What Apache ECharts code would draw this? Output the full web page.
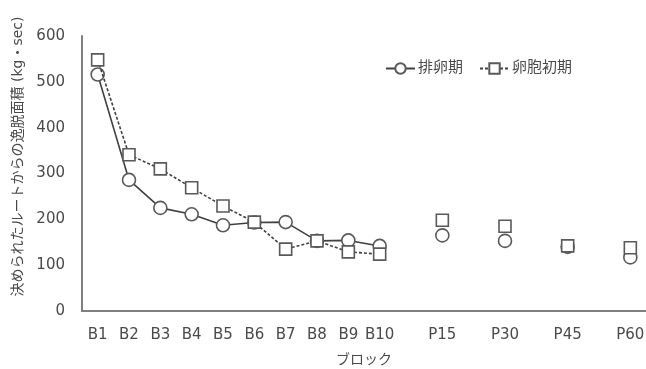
<!DOCTYPE html>
<html>
<head>
<meta charset="utf-8">
<script src="https://cdn.jsdelivr.net/npm/echarts@6/dist/echarts.min.js"></script>
<style>
html,body{margin:0;padding:0;background:#fff;}
#chart{width:646px;height:369px;}
</style>
</head>
<body>
<div id="chart"></div>
<script>
// Data
const blockLabels = ['B1','B2','B3','B4','B5','B6','B7','B8','B9','B10'];
const postLabels = ['P15','P30','P45','P60'];
const ovulationBlock = [516, 286, 225, 211, 187, 193, 194, 153, 154, 142];
const ovulationPost = [165, 153, 140, 117];
const follicularBlock = [548, 341, 310, 269, 229, 194, 135, 153, 129, 124];
const follicularPost = [198, 185, 142, 138];
const seriesNames = ['排卵期', '卵胞初期'];
const yTicks = { min: 0, max: 600, interval: 100 };

// Build category axis: blocks, then post values separated by blank slots
const categories = blockLabels.slice();
function buildValues(block, post) {
  const out = block.slice();
  post.forEach(v => { out.push(null); out.push(v); });
  return out;
}
postLabels.forEach(p => { categories.push(''); categories.push(p); });
const ovulation = buildValues(ovulationBlock, ovulationPost);
const follicular = buildValues(follicularBlock, follicularPost);

const font = '"DejaVu Sans", "Noto Sans CJK JP", sans-serif';
const textColor = '#4a4a4a';
const lineColor = '#404040';

const chart = echarts.init(document.getElementById('chart'), null, { renderer: 'canvas' });
chart.setOption({
  animation: false,
  backgroundColor: '#fff',
  textStyle: { fontFamily: font },
  grid: { left: 82, right: 0, top: 36, bottom: 58, containLabel: false, outerBoundsMode: 'none' },
  legend: {
    left: 380, top: 56,
    itemWidth: 29, itemHeight: 13, itemGap: 16,
    textStyle: { fontFamily: font, fontSize: 15, color: textColor, padding: [0,0,0,-2] },
    data: seriesNames
  },
  xAxis: {
    type: 'category',
    data: categories,
    boundaryGap: true,
    name: 'ブロック',
    nameLocation: 'middle',
    nameGap: 42,
    nameTextStyle: { fontFamily: font, fontSize: 14, color: textColor },
    axisLine: { show: true, lineStyle: { color: '#7f7f7f', width: 2 } },
    axisTick: { show: false },
    axisLabel: { interval: 0, margin: 17, fontSize: 15, color: textColor, fontFamily: font },
    splitLine: { show: false }
  },
  yAxis: {
    type: 'value',
    min: yTicks.min, max: yTicks.max, interval: yTicks.interval,
    name: '決められたルートからの逸脱面積 (kg・sec)',
    nameLocation: 'middle',
    nameGap: 57,
    nameTextStyle: { fontFamily: font, fontSize: 14, color: textColor, padding: [0,0,0,34] },
    axisLine: { show: true, lineStyle: { color: '#7f7f7f', width: 2 } },
    axisTick: { show: false },
    axisLabel: { margin: 17, fontSize: 15, color: textColor, fontFamily: font },
    splitLine: { show: false }
  },
  series: [
    {
      name: seriesNames[0],
      type: 'line',
      data: ovulation,
      connectNulls: false,
      symbol: 'circle',
      symbolSize: 13,
      showSymbol: true,
      showAllSymbol: true,
      lineStyle: { color: lineColor, width: 1.6, type: 'solid' },
      itemStyle: { color: '#fff', borderColor: '#595959', borderWidth: 1.6 },
      z: 2
    },
    {
      name: seriesNames[1],
      type: 'line',
      data: follicular,
      connectNulls: false,
      symbol: 'rect',
      symbolSize: 12,
      showSymbol: true,
      showAllSymbol: true,
      lineStyle: { color: lineColor, width: 1.6, type: [3, 2] },
      itemStyle: { color: '#fff', borderColor: '#595959', borderWidth: 1.6 },
      z: 3
    }
  ]
});
</script>
</body>
</html>
